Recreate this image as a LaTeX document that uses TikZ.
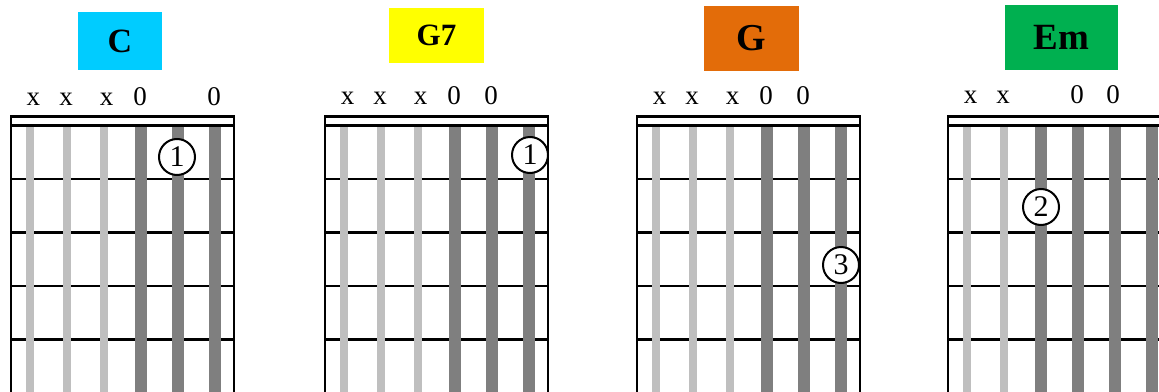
\documentclass[tikz,border=0pt]{standalone}
\usepackage{fontspec}
\setmainfont{Liberation Serif}
\usetikzlibrary{positioning}

\definecolor{boxcyan}{RGB}{0,204,255}
\definecolor{boxyellow}{RGB}{255,255,0}
\definecolor{boxorange}{RGB}{227,108,9}
\definecolor{boxgreen}{RGB}{0,176,80}
\definecolor{lightstring}{RGB}{191,191,191}
\definecolor{darkstring}{RGB}{127,127,127}

\begin{document}
\begin{tikzpicture}[
    x=1pt, y=-1pt,
    chordname/.style={rectangle, inner sep=0pt, align=center, font=\bfseries},
    openlabel/.style={anchor=base, inner sep=0pt, font=\fontsize{27}{30}\selectfont},
    finger/.style={circle, draw, fill=white, line width=2pt, minimum size=36pt, inner sep=0pt, font=\fontsize{30}{32}\selectfont},
    fretline/.style={line width=2.4pt},
    mutedstring/.style={line width=8pt, lightstring},
    playedstring/.style={line width=12pt, darkstring}
]
    \useasboundingbox (0,0) rectangle (1159,391);
    \clip (0,0) rectangle (1159,391);

    % chord names
    \node[chordname, fill=boxcyan, minimum width=84pt, minimum height=58pt, font=\bfseries\fontsize{34}{36}\selectfont] (cname) at (120,41) {C};
    \node[chordname, fill=boxyellow, minimum width=95pt, minimum height=55pt, font=\bfseries\fontsize{31}{34}\selectfont] (gsevenname) at (436.5,35.5) {G7};
    \node[chordname, fill=boxorange, minimum width=95pt, minimum height=65pt, font=\bfseries\fontsize{38}{40}\selectfont] (gname) at (751.5,38.5) {G};
    \node[chordname, fill=boxgreen, minimum width=113pt, minimum height=65pt, font=\bfseries\fontsize{37}{40}\selectfont] (emname) at (1061.5,37.5) {Em};

    % fretboards: left edge / number of muted strings
    \foreach \fx/\muted in {11/3, 325/3, 637/3, 948/2} {
        \foreach \f in {179,232.5,286,339.5}
            \draw[fretline] (\fx,\f) -- (\fx+223,\f);
        \foreach \s in {0,...,5} {
            \ifnum\s<\muted
                \draw[mutedstring] (\fx+19+37*\s,125.5) -- (\fx+19+37*\s,400);
            \else
                \draw[playedstring] (\fx+19+37*\s,125.5) -- (\fx+19+37*\s,400);
            \fi
        }
        \draw[fretline] (\fx,116.5) rectangle (\fx+223,125.5);
        \draw[fretline] (\fx,116.5) -- (\fx,400);
        \draw[fretline] (\fx+223,116.5) -- (\fx+223,400);
    }

    % open and muted strings
    \foreach \s/\t/\d in {0/x/3.5,1/x/-1,2/x/2.5,3/0/-1,5/0/-1}
        \node[openlabel] (c-top\s) at (30+37*\s+\d,105) {\t};
    \foreach \s/\t/\d in {0/x/3.5,1/x/-1,2/x/2.5,3/0/-1,4/0/-1}
        \node[openlabel] (gseven-top\s) at (344+37*\s+\d,104.5) {\t};
    \foreach \s/\t/\d in {0/x/3.5,1/x/-1,2/x/2.5,3/0/-1,4/0/-1}
        \node[openlabel] (g-top\s) at (656+37*\s+\d,104.5) {\t};
    \foreach \s/\t/\d in {0/x/3.5,1/x/-1,3/0/-1,4/0/-2}
        \node[openlabel] (em-top\s) at (967+37*\s+\d,103.5) {\t};

    % fingers
    \node[finger] (c-one) at (177,157) {1};
    \node[finger] (gseven-one) at (530,155) {1};
    \node[finger] (g-three) at (841,265) {3};
    \node[finger] (em-two) at (1041,207) {2};
\end{tikzpicture}
\end{document}
